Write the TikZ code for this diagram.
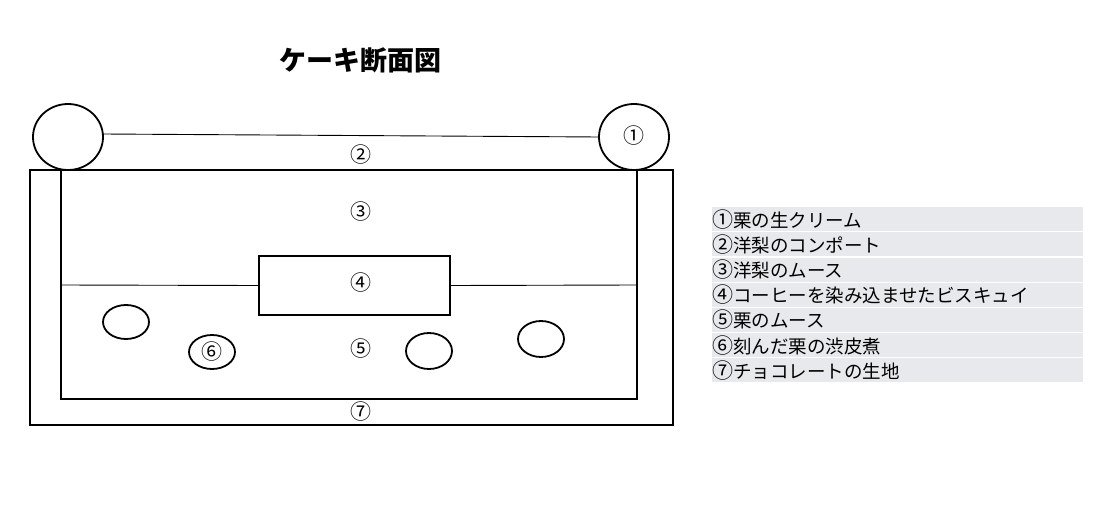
\documentclass[tikz,border=0pt]{standalone}
\usepackage{fontspec}
\setmainfont{Noto Sans CJK JP}
\definecolor{legendbg}{HTML}{E7E9EC}
\newcommand{\cnum}[1]{{\fontsize{21}{21}\selectfont #1}}
\tikzset{
  thick line/.style={draw=black, line width=1.8pt},
  thin line/.style={draw=black, line width=0.9pt},
  num/.style={font=\fontsize{21}{21}\selectfont, inner sep=0pt},
  legendrow/.style={fill=legendbg, draw=none, minimum width=371pt, minimum height=24pt, anchor=north west, inner sep=0pt},
  legendtext/.style={font=\fontsize{18.5}{18.5}\selectfont, anchor=west, inner sep=0pt},
}
\begin{document}
\begin{tikzpicture}[x=1pt,y=-1pt]
\useasboundingbox (0,0) rectangle (1108,511);
% title
\node[font=\fontsize{27}{27}\selectfont\bfseries] (title) at (360,60) {ケーキ断面図};
% outer and inner rectangles
\draw[thick line] (30,170) rectangle (673,425);
\draw[thick line] (61,170) rectangle (637,399);
% top cream balls
\draw[thick line, fill=white] (68,137) ellipse (35 and 33);
\draw[thick line, fill=white] (634,137) ellipse (35 and 33);
\coordinate (cl) at (103,134);
\coordinate (cr) at (599,137);
\draw[thin line] (cl) -- (cr);
% biscuit box
\node[thick line, minimum width=191pt, minimum height=59pt, inner sep=0pt] (biscuit) at (354.5,285.5) {};
\coordinate (ml) at (61,285);
\coordinate (mr) at (637,285);
\draw[thin line] (ml) -- (biscuit.west);
\draw[thin line] (biscuit.east) -- (mr);
% chestnuts
\draw[thick line] (126,322) ellipse (23 and 17);
\draw[thick line] (212,352) ellipse (23 and 17);
\draw[thick line] (429,351) ellipse (23 and 18);
\draw[thick line] (541,339) ellipse (23 and 18);
% labels
\node[num] (n1) at (634,136) {①};
\node[num] (n2) at (361,155) {②};
\node[num] (n3) at (361,212) {③};
\node[num] (n4) at (361,283) {④};
\node[num] (n5) at (361,349) {⑤};
\node[num] (n6) at (212,352) {⑥};
\node[num] (n7) at (361,412) {⑦};
% legend
\foreach \i/\d/\t in {0/①/栗の生クリーム,1/②/洋梨のコンポート,2/③/洋梨のムース,3/④/コーヒーを染み込ませたビスキュイ,4/⑤/栗のムース,5/⑥/刻んだ栗の渋皮煮,6/⑦/チョコレートの生地}{
  \node[legendrow] (row\i) at (712,{207+25.2*\i}) {};
  \node[legendtext] (lt\i) at ([xshift=0pt]row\i.west) {\cnum{\d}\t};
}
\end{tikzpicture}
\end{document}
